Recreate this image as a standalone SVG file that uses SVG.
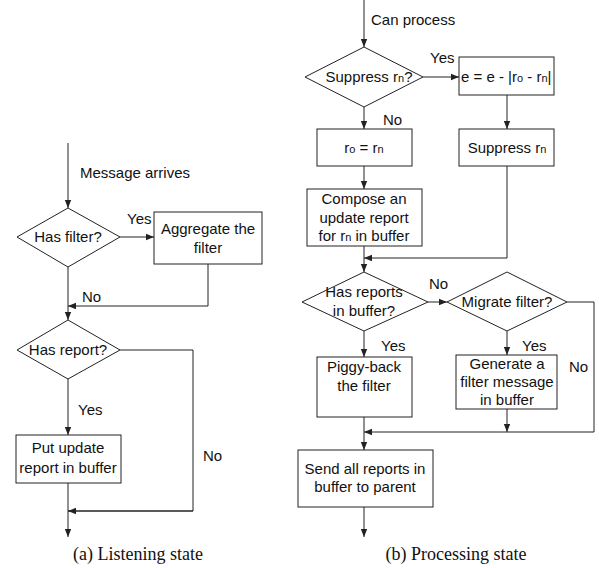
<svg xmlns="http://www.w3.org/2000/svg" width="599" height="568" viewBox="0 0 599 568">
  <style>
    .shape { fill: #fff; stroke: #222; stroke-width: 1; }
    .wire { fill: none; stroke: #222; stroke-width: 1; }
    .arr { marker-end: url(#head); }
    text { font-family: "Liberation Sans", Arial, sans-serif; font-size: 15px; fill: #111; }
    .c { text-anchor: middle; }
    .sub { font-size: 11px; }
    .cap { font-family: "Liberation Serif", "Times New Roman", serif; font-size: 18px; text-anchor: middle; }
  </style>
  <defs>
    <marker id="head" viewBox="0 0 8 8" refX="8" refY="4" markerWidth="8" markerHeight="8" markerUnits="userSpaceOnUse" orient="auto">
      <path d="M0,0.8 L8,4 L0,7.2 Z" fill="#222"/>
    </marker>
  </defs>

  <rect width="599" height="568" fill="#fff"/>

  <!-- (a) Listening state -->
  <g id="connectors-a">
    <line class="wire arr" x1="68" y1="143" x2="68" y2="208"/>
    <line class="wire arr" x1="120" y1="237" x2="154" y2="237"/>
    <line class="wire arr" x1="68" y1="267" x2="68" y2="320"/>
    <polyline class="wire arr" points="208,264 208,306 68,306"/>
    <polyline class="wire" points="120,350 193,350 193,511 68,511"/>
    <line class="wire arr" x1="193" y1="511" x2="68" y2="511"/>
    <line class="wire arr" x1="68" y1="379" x2="68" y2="435"/>
    <line class="wire arr" x1="68" y1="483" x2="68" y2="537"/>
    <text x="80" y="178">Message arrives</text>
    <text x="127" y="224">Yes</text>
    <text x="82" y="302">No</text>
    <text x="78" y="415">Yes</text>
    <text x="203" y="461">No</text>
  </g>

  <g id="has-filter">
    <polygon class="shape" points="68,208 120,237 68,267 17,237"/>
    <text class="c" x="68" y="242">Has filter?</text>
  </g>
  <g id="aggregate-filter">
    <rect class="shape" x="154" y="212" width="108" height="52"/>
    <text class="c" x="208" y="234">Aggregate the</text>
    <text class="c" x="208" y="253">filter</text>
  </g>
  <g id="has-report">
    <polygon class="shape" points="68,320 120,350 68,379 17,350"/>
    <text class="c" x="68" y="355">Has report?</text>
  </g>
  <g id="put-update">
    <rect class="shape" x="16" y="435" width="105" height="48"/>
    <text class="c" x="68" y="453">Put update</text>
    <text class="c" x="68" y="473">report in buffer</text>
  </g>
  <text class="cap" x="138" y="560">(a) Listening state</text>

  <!-- (b) Processing state -->
  <g id="connectors-b">
    <line class="wire arr" x1="364" y1="0" x2="364" y2="47"/>
    <line class="wire arr" x1="423" y1="77" x2="459" y2="77"/>
    <line class="wire arr" x1="364" y1="107" x2="364" y2="129"/>
    <line class="wire arr" x1="507" y1="95" x2="507" y2="129"/>
    <line class="wire arr" x1="364" y1="166" x2="364" y2="189"/>
    <polyline class="wire arr" points="507,166 507,258 364,258"/>
    <line class="wire arr" x1="364" y1="246" x2="364" y2="272"/>
    <line class="wire arr" x1="428" y1="302" x2="447" y2="302"/>
    <line class="wire arr" x1="364" y1="331" x2="364" y2="357"/>
    <line class="wire arr" x1="507" y1="331" x2="507" y2="355"/>
    <polyline class="wire arr" points="567,302 594,302 594,432 364,432"/>
    <line class="wire arr" x1="507" y1="409" x2="507" y2="432"/>
    <line class="wire arr" x1="364" y1="417" x2="364" y2="450"/>
    <line class="wire arr" x1="364" y1="507" x2="364" y2="537"/>
    <text x="371" y="25">Can process</text>
    <text x="430" y="63">Yes</text>
    <text x="383" y="125">No</text>
    <text x="429" y="289">No</text>
    <text x="381" y="351">Yes</text>
    <text x="522" y="351">Yes</text>
    <text x="569" y="372">No</text>
  </g>

  <g id="suppress-check">
    <polygon class="shape" points="364,47 423,77 364,107 305,77"/>
    <text class="c" x="369" y="82">Suppress r<tspan class="sub">n</tspan>?</text>
  </g>
  <g id="error-update">
    <rect class="shape" x="459" y="57" width="95" height="38"/>
    <text x="461" y="82">e = e - |r<tspan class="sub">o</tspan> - r<tspan class="sub">n</tspan>|</text>
  </g>
  <g id="assign-ro">
    <rect class="shape" x="317" y="129" width="95" height="37"/>
    <text class="c" x="364" y="153">r<tspan class="sub">o</tspan> = r<tspan class="sub">n</tspan></text>
  </g>
  <g id="suppress-rn">
    <rect class="shape" x="459" y="129" width="95" height="37"/>
    <text class="c" x="507" y="153">Suppress r<tspan class="sub">n</tspan></text>
  </g>
  <g id="compose-report">
    <rect class="shape" x="307" y="189" width="115" height="57"/>
    <text class="c" x="364" y="204">Compose an</text>
    <text class="c" x="364" y="223">update report</text>
    <text class="c" x="364" y="241">for r<tspan class="sub">n</tspan> in buffer</text>
  </g>
  <g id="has-reports">
    <polygon class="shape" points="364,272 428,302 364,331 302,302"/>
    <text class="c" x="364" y="297">Has reports</text>
    <text class="c" x="364" y="316">in buffer?</text>
  </g>
  <g id="migrate-filter">
    <polygon class="shape" points="507,272 567,302 507,331 447,302"/>
    <text class="c" x="507" y="307">Migrate filter?</text>
  </g>
  <g id="piggy-back">
    <rect class="shape" x="317" y="357" width="95" height="60"/>
    <text class="c" x="364" y="372">Piggy-back</text>
    <text class="c" x="364" y="391">the filter</text>
  </g>
  <g id="generate-filter">
    <rect class="shape" x="456" y="355" width="101" height="54"/>
    <text class="c" x="507" y="369">Generate a</text>
    <text class="c" x="507" y="387">filter message</text>
    <text class="c" x="507" y="405">in buffer</text>
  </g>
  <g id="send-reports">
    <rect class="shape" x="298" y="450" width="135" height="57"/>
    <text class="c" x="365" y="474">Send all reports in</text>
    <text class="c" x="365" y="492">buffer to parent</text>
  </g>
  <text class="cap" x="456" y="560">(b) Processing state</text>
</svg>
